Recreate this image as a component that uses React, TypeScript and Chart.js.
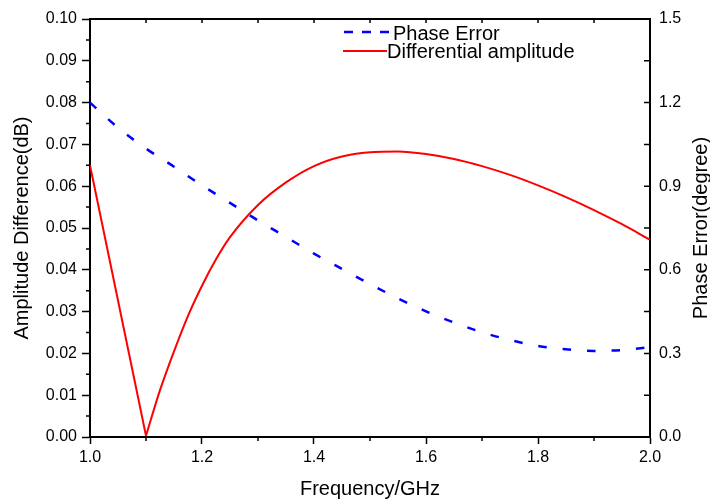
import React, { useEffect, useRef } from 'react';
import { Chart, registerables } from 'chart.js';

Chart.register(...registerables);

// Phase error (right axis, degree)
const phaseFreq = [1.0, 1.05, 1.1, 1.15, 1.2, 1.25, 1.3, 1.35, 1.4, 1.45, 1.5, 1.55, 1.6, 1.65, 1.7, 1.75, 1.8, 1.85, 1.9, 1.95, 2.0];
const phaseError = [1.2, 1.11, 1.035, 0.97, 0.903, 0.84, 0.777, 0.718, 0.658, 0.603, 0.549, 0.497, 0.451, 0.411, 0.376, 0.348, 0.327, 0.315, 0.309, 0.312, 0.322];

// Differential amplitude (left axis, dB): falling straight branch, then smooth rising branch
const ampFallFreq = [1.0, 1.1];
const ampFallDiff = [0.065, 0.0003];
const ampRiseFreq = [1.1, 1.125, 1.15, 1.175, 1.2, 1.225, 1.25, 1.3, 1.35, 1.4, 1.45, 1.5, 1.55, 1.6, 1.65, 1.7, 1.75, 1.8, 1.85, 1.9, 1.95, 2.0];
const ampRiseDiff = [0.0003, 0.0112, 0.0205, 0.029, 0.0362, 0.0425, 0.0478, 0.0555, 0.0609, 0.0648, 0.0671, 0.0681, 0.0683, 0.0677, 0.0665, 0.0648, 0.0627, 0.0602, 0.0574, 0.0543, 0.0509, 0.0472];

const seriesNames = ['Phase Error', 'Differential amplitude'];
const axisTitles = ['Frequency/GHz', 'Amplitude Difference(dB)', 'Phase Error(degree)'];

const X_MIN = 1.0, X_MAX = 2.0, X_STEP = 0.2, X_MINOR = 0.1;
const Y_MIN = 0, Y_MAX = 0.1, Y_STEP = 0.01, Y_MINOR = 0.005;
const Y1_MIN = 0, Y1_MAX = 1.5, Y1_STEP = 0.3, Y1_MINOR = 0.15;

const FONT = "'Liberation Sans', Arial, sans-serif";
const BLUE = '#0000ff';
const RED = '#ff0000';

const decorPlugin = {
  id: 'decor',
  afterDraw(chart: any) {
    const { ctx, chartArea: a, scales } = chart;
    const xs = scales.x, ys = scales.y, y1 = scales.y1;
    ctx.save();
    ctx.strokeStyle = '#000';
    // top frame
    ctx.lineWidth = 2;
    ctx.beginPath();
    ctx.moveTo(a.left - 1, a.top);
    ctx.lineTo(a.right + 1, a.top);
    ctx.stroke();

    ctx.lineWidth = 1.5;
    ctx.beginPath();
    const nx = Math.round((X_MAX - X_MIN) / X_MINOR);
    for (let i = 0; i <= nx; i++) {
      const x = xs.getPixelForValue(X_MIN + i * X_MINOR);
      ctx.moveTo(x, a.top);
      ctx.lineTo(x, a.top + 4);
      if (i % 2 === 1) {
        ctx.moveTo(x, a.bottom);
        ctx.lineTo(x, a.bottom + 4);
      }
    }
    const ny = Math.round((Y_MAX - Y_MIN) / Y_MINOR);
    for (let i = 1; i < ny; i += 2) {
      const y = ys.getPixelForValue(Y_MIN + i * Y_MINOR);
      ctx.moveTo(a.left - 4, y);
      ctx.lineTo(a.left, y);
    }
    const ny1 = Math.round((Y1_MAX - Y1_MIN) / Y1_MINOR);
    for (let i = 0; i <= ny1; i++) {
      const y = y1.getPixelForValue(Y1_MIN + i * Y1_MINOR);
      ctx.moveTo(a.right - 6, y);
      ctx.lineTo(a.right, y);
    }
    ctx.stroke();

    // legend
    ctx.font = `20px ${FONT}`;
    ctx.fillStyle = '#000';
    ctx.textBaseline = 'alphabetic';
    ctx.textAlign = 'left';
    ctx.strokeStyle = BLUE;
    ctx.lineWidth = 2.5;
    ctx.setLineDash([9, 9]);
    ctx.beginPath();
    ctx.moveTo(344, 32);
    ctx.lineTo(389, 32);
    ctx.stroke();
    ctx.setLineDash([]);
    ctx.fillText(seriesNames[0], 393, 39.5);
    ctx.strokeStyle = RED;
    ctx.lineWidth = 2;
    ctx.beginPath();
    ctx.moveTo(343, 51);
    ctx.lineTo(387, 51);
    ctx.stroke();
    ctx.fillText(seriesNames[1], 387, 57.5);

    // right axis title, reading bottom to top
    ctx.save();
    ctx.translate(701, (a.top + a.bottom) / 2);
    ctx.rotate(-Math.PI / 2);
    ctx.textAlign = 'center';
    ctx.textBaseline = 'middle';
    ctx.fillText(axisTitles[2], 0, 0);
    ctx.restore();

    ctx.restore();
  },
};

export default function App() {
  const canvasRef = useRef<HTMLCanvasElement | null>(null);

  useEffect(() => {
    const canvas = canvasRef.current;
    if (!canvas) return;
    const tickFont = { family: FONT, size: 16 };
    const titleFont = { family: FONT, size: 20 };
    const chart = new Chart(canvas, {
      type: 'line',
      data: {
        datasets: [
          {
            label: seriesNames[0],
            data: phaseFreq.map((f, i) => ({ x: f, y: phaseError[i] })),
            yAxisID: 'y1',
            borderColor: BLUE,
            borderWidth: 2.5,
            borderDash: [8.5, 16],
            pointRadius: 0,
            cubicInterpolationMode: 'monotone',
            fill: false,
          },
          {
            label: seriesNames[1],
            data: ampFallFreq.map((f, i) => ({ x: f, y: ampFallDiff[i] })),
            yAxisID: 'y',
            borderColor: RED,
            borderWidth: 2,
            pointRadius: 0,
            tension: 0,
            fill: false,
          },
          {
            label: seriesNames[1],
            data: ampRiseFreq.map((f, i) => ({ x: f, y: ampRiseDiff[i] })),
            yAxisID: 'y',
            borderColor: RED,
            borderWidth: 2,
            pointRadius: 0,
            cubicInterpolationMode: 'monotone',
            fill: false,
          },
        ],
      },
      options: {
        responsive: false,
        devicePixelRatio: 1,
        animation: false,
        events: [],
        layout: { padding: { top: 19, left: 0, right: 0, bottom: 0 } },
        plugins: {
          legend: { display: false },
          tooltip: { enabled: false },
          title: { display: false },
        },
        scales: {
          x: {
            type: 'linear',
            position: 'bottom',
            min: X_MIN,
            max: X_MAX,
            afterFit: (s: any) => { s.height = 64; },
            ticks: {
              stepSize: X_STEP,
              font: tickFont,
              color: '#000',
              padding: 4,
              maxRotation: 0,
              callback: (v: any) => Number(v).toFixed(1),
            },
            grid: { drawOnChartArea: false, drawTicks: true, tickLength: 7, tickColor: '#000', tickWidth: 1.5 },
            border: { display: true, color: '#000', width: 2 },
            title: { display: true, text: axisTitles[0], font: titleFont, color: '#000', padding: { top: 0, bottom: 0 } },
          },
          y: {
            type: 'linear',
            position: 'left',
            min: Y_MIN,
            max: Y_MAX,
            afterFit: (s: any) => { s.width = 90; },
            ticks: {
              stepSize: Y_STEP,
              font: tickFont,
              color: '#000',
              padding: 5,
              callback: (v: any) => Number(v).toFixed(2),
            },
            grid: { drawOnChartArea: false, drawTicks: true, tickLength: 8, tickColor: '#000', tickWidth: 1.5 },
            border: { display: true, color: '#000', width: 2 },
            title: { display: true, text: axisTitles[1], font: titleFont, color: '#000', padding: { top: 10, bottom: 0 } },
          },
          y1: {
            type: 'linear',
            position: 'right',
            min: Y1_MIN,
            max: Y1_MAX,
            afterFit: (s: any) => { s.width = 60; },
            ticks: {
              stepSize: Y1_STEP,
              font: tickFont,
              color: '#000',
              padding: 9,
              callback: (v: any) => Number(v).toFixed(1),
            },
            grid: { drawOnChartArea: false, drawTicks: false },
            border: { display: true, color: '#000', width: 2 },
            title: { display: false },
          },
        },
      },
      plugins: [decorPlugin],
    } as any);
    return () => chart.destroy();
  }, []);

  return (
    <div style={{ position: 'fixed', left: 0, top: 0, width: 710, height: 501, background: '#fff' }}>
      <canvas ref={canvasRef} width={710} height={501} style={{ display: 'block' }} />
    </div>
  );
}
